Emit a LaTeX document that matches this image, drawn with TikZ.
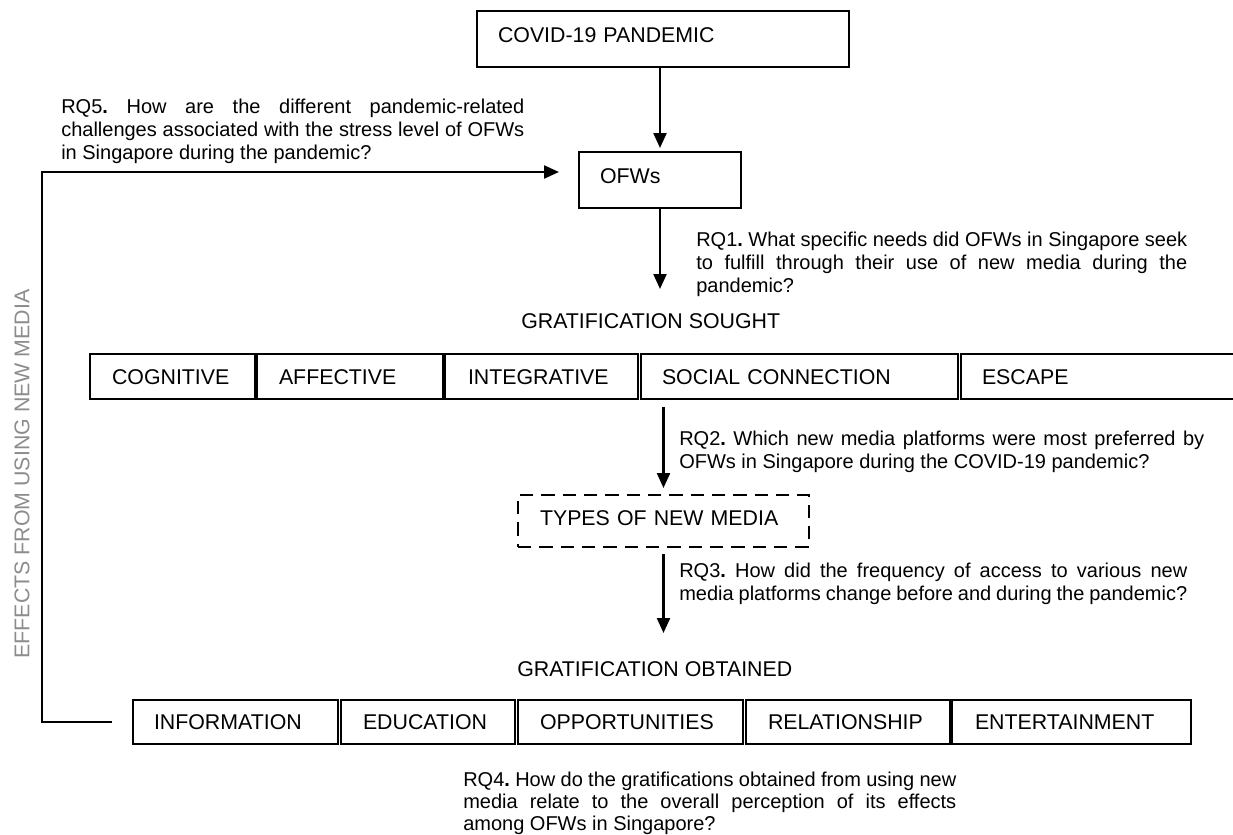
\documentclass[tikz,border=0pt]{standalone}
\usepackage{fontspec}
\setmainfont{Liberation Sans}
\usetikzlibrary{arrows.meta}
\newcommand{\rqfont}{\fontsize{15}{17.4}\selectfont\frenchspacing}
\newcommand{\capfont}{\fontsize{16}{19}\selectfont}
\begin{document}
\begin{tikzpicture}[x=0.75pt,y=-0.75pt,
  boxnode/.style={draw, line width=1.65pt, anchor=west, align=left, outer sep=0pt,
    inner ysep=0pt, font=\capfont, text height=11.5pt, text depth=0pt},
  arr/.style={line width=1.7pt, -{Triangle[width=9.75pt,length=11.25pt]}},
  rqtext/.style={anchor=base west, inner sep=0pt},
  head/.style={anchor=base west, inner sep=0pt, font=\capfont}]
\fill[white] (0,0) rectangle (1233,835);
\useasboundingbox (0,0) rectangle (1233,835);

% top boxes
\node[boxnode, minimum width=279pt, minimum height=42pt, inner xsep=15.75pt,
  text width=247.5pt, text depth=6pt] (covid) at (477,39) {COVID-19 PANDEMIC};
\node[boxnode, minimum width=121.5pt, minimum height=42pt, inner xsep=15.75pt,
  text width=90pt, text depth=6pt] (ofws) at (579,180) {OFWs};

% gratification sought
\node[head] (gsought) at (521,328.6) {GRATIFICATION SOUGHT};
\begin{scope}[every node/.append style={minimum height=33.75pt, text height=13.75pt}]
\node[boxnode, minimum width=123.75pt, inner xsep=16.5pt, text width=90.75pt] (cog) at (90,376.5) {COGNITIVE};
\node[boxnode, minimum width=139.5pt, inner xsep=16.5pt, text width=106.5pt] (aff) at (257,376.5) {AFFECTIVE};
\node[boxnode, minimum width=144.75pt, inner xsep=17.25pt, text width=110.25pt] (int) at (445,376.5) {INTEGRATIVE};
\node[boxnode, minimum width=237.75pt, inner xsep=15.75pt, text width=206.25pt] (soc) at (641,376.5) {SOCIAL CONNECTION};
\node[boxnode, minimum width=206.25pt, inner xsep=15.75pt, text width=174.75pt] (esc) at (961,376.5) {ESCAPE};
\end{scope}

% types of new media
\node[boxnode, dash pattern=on 10pt off 6pt, minimum width=218.25pt, minimum height=39pt,
  inner xsep=16.5pt, text width=185.25pt, text depth=4.5pt] (types) at (518,521)
  {\makebox[186pt][s]{TYPES OF NEW MEDIA}};

% gratification obtained
\node[head] (gobt) at (517,676.6) {GRATIFICATION OBTAINED};
\begin{scope}[every node/.append style={minimum height=33pt, text height=13pt}]
\node[boxnode, minimum width=153.75pt, inner xsep=15.75pt, text width=122.25pt] (info) at (133,722) {INFORMATION};
\node[boxnode, minimum width=130.5pt, inner xsep=16.5pt, text width=97.5pt] (edu) at (341,722) {EDUCATION};
\node[boxnode, minimum width=168.75pt, inner xsep=16.5pt, text width=135.75pt] (opp) at (518,722) {OPPORTUNITIES};
\node[boxnode, minimum width=153pt, inner xsep=16.5pt, text width=120pt] (rel) at (746,722) {RELATIONSHIP};
\node[boxnode, minimum width=179.25pt, inner xsep=17.25pt, text width=144.75pt] (ent) at (952,722) {ENTERTAINMENT};
\end{scope}

% research questions
\node[rqtext] (rq5) at (61,113.5) {\parbox[t]{347.25pt}{\rqfont
\makebox[\linewidth][s]{RQ5\textbf{.} How are the different pandemic-related}\\
\makebox[\linewidth][s]{challenges associated with the stress level of OFWs}\\
in Singapore during the pandemic?}};
\node[rqtext] (rq1) at (696,246.5) {\parbox[t]{368.25pt}{\rqfont
\makebox[\linewidth][s]{RQ1\textbf{.} What specific needs did OFWs in Singapore seek}\\
\makebox[\linewidth][s]{to fulfill through their use of new media during the}\\
pandemic?}};
\node[rqtext] (rq2) at (679,445) {\parbox[t]{393.75pt}{\rqfont
\makebox[\linewidth][s]{RQ2\textbf{.} Which new media platforms were most preferred by}\\
OFWs in Singapore during the COVID-19 pandemic?}};
\node[rqtext] (rq3) at (679,577.5) {\parbox[t]{381pt}{\rqfont
\makebox[\linewidth][s]{RQ3\textbf{.} How did the frequency of access to various new}\\
\makebox[\linewidth][s]{media platforms change before and during the pandemic?}}};
\node[rqtext] (rq4) at (463,786) {\parbox[t]{369.75pt}{\fontsize{15}{16.5}\selectfont\frenchspacing
\makebox[\linewidth][s]{RQ4\textbf{.} How do the gratifications obtained from using new}\\
\makebox[\linewidth][s]{media relate to the overall perception of its effects}\\
among OFWs in Singapore?}};

% side label
\node[rotate=90, font=\capfont, text=black!45, inner sep=0pt] (effects) at (22,474)
  {EFFECTS FROM USING NEW MEDIA};

% connectors
\draw[arr] (ofws.north |- covid.south) -- ([yshift=3pt]ofws.north);
\coordinate (gsTip) at (660,289);
\draw[arr] (ofws.south) -- (gsTip);
\coordinate (a3) at (types.north |- soc.south);
\draw[arr] ([yshift=-6pt]a3) -- ([yshift=5.25pt]types.north);
\coordinate (goTip) at (663.5,633);
\draw[arr] ([yshift=-5.25pt]types.south) -- (goTip);
\coordinate (fbTop) at (42,172);
\coordinate (fbEnd) at (559,172);
\draw[arr] ([xshift=-15.75pt]info.west) -| (fbTop) -- (fbEnd);
\end{tikzpicture}
\end{document}
